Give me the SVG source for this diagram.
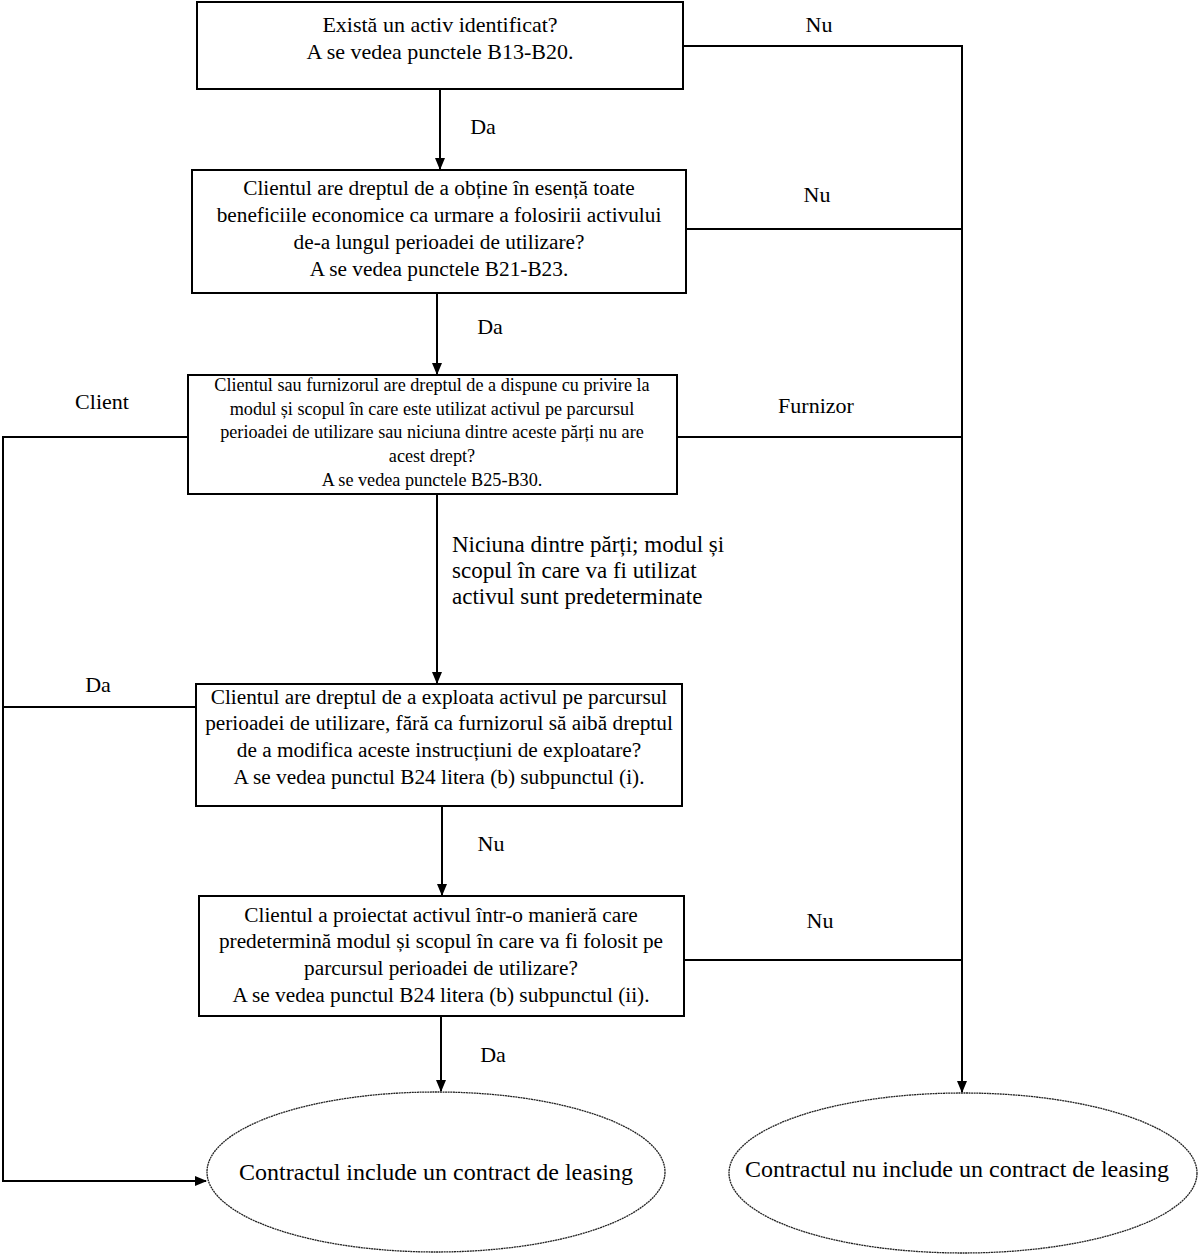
<svg xmlns="http://www.w3.org/2000/svg" width="1199" height="1259" viewBox="0 0 1199 1259">
<style>
.box{fill:#fff;stroke:#000;stroke-width:2}
.ell{fill:#fff;stroke:#222;stroke-width:1.3;stroke-dasharray:2 0.6}
.ln{fill:none;stroke:#000;stroke-width:2}
text{font-family:"Liberation Serif","Times New Roman",serif;fill:#000}
.t{font-size:21.3px;text-anchor:middle}
.t1{font-size:22px;text-anchor:middle}
.s{font-size:18.2px;text-anchor:middle}
.e{font-size:24px;text-anchor:middle}
.l{font-size:22px}
.n{font-size:23px}
</style>
<defs>
<marker id="arr" markerWidth="12" markerHeight="12" refX="11" refY="6" orient="auto" markerUnits="userSpaceOnUse">
<path d="M0,1 L12,6 L0,11 Z" fill="#000"/>
</marker>
</defs>
<rect width="1199" height="1259" fill="#fff"/>
<g id="connectors">
<line class="ln" x1="440" y1="89" x2="440" y2="169" marker-end="url(#arr)"/>
<line class="ln" x1="437" y1="293" x2="437" y2="374" marker-end="url(#arr)"/>
<line class="ln" x1="437" y1="494" x2="437" y2="683" marker-end="url(#arr)"/>
<line class="ln" x1="442" y1="806" x2="442" y2="895" marker-end="url(#arr)"/>
<line class="ln" x1="441" y1="1016" x2="441" y2="1091" marker-end="url(#arr)"/>
<polyline class="ln" points="683,46 962,46 962,1092" marker-end="url(#arr)"/>
<line class="ln" x1="686" y1="229" x2="962" y2="229"/>
<line class="ln" x1="677" y1="437" x2="962" y2="437"/>
<line class="ln" x1="684" y1="960" x2="962" y2="960"/>
<polyline class="ln" points="188,437 3,437 3,1181 206,1181" marker-end="url(#arr)"/>
<line class="ln" x1="196" y1="707" x2="3" y2="707"/>
</g>
<g id="labels">
<text class="l" x="819" y="32" text-anchor="middle">Nu</text>
<text class="l" x="483" y="134" text-anchor="middle">Da</text>
<text class="l" x="817" y="202" text-anchor="middle">Nu</text>
<text class="l" x="490" y="334" text-anchor="middle">Da</text>
<text class="l" x="102" y="409" text-anchor="middle">Client</text>
<text class="l" x="816" y="413" text-anchor="middle">Furnizor</text>
<text class="n" x="452" y="552">Niciuna dintre părți; modul și</text>
<text class="n" x="452" y="578">scopul în care va fi utilizat</text>
<text class="n" x="452" y="604">activul sunt predeterminate</text>
<text class="l" x="98" y="692" text-anchor="middle">Da</text>
<text class="l" x="491" y="851" text-anchor="middle">Nu</text>
<text class="l" x="820" y="928" text-anchor="middle">Nu</text>
<text class="l" x="493" y="1062" text-anchor="middle">Da</text>
</g>
<g id="n1">
<rect class="box" x="197" y="2" width="486" height="87"/>
<text class="t1" x="440" y="32">Există un activ identificat?</text>
<text class="t1" x="440" y="59">A se vedea punctele B13-B20.</text>
</g>
<g id="n2">
<rect class="box" x="192" y="170" width="494" height="123"/>
<text class="t" x="439" y="195">Clientul are dreptul de a obține în esență toate</text>
<text class="t" x="439" y="222">beneficiile economice ca urmare a folosirii activului</text>
<text class="t" x="439" y="249">de-a lungul perioadei de utilizare?</text>
<text class="t" x="439" y="276">A se vedea punctele B21-B23.</text>
</g>
<g id="n3">
<rect class="box" x="188" y="375" width="489" height="119"/>
<text class="s" x="432" y="391">Clientul sau furnizorul are dreptul de a dispune cu privire la</text>
<text class="s" x="432" y="415">modul și scopul în care este utilizat activul pe parcursul</text>
<text class="s" x="432" y="438">perioadei de utilizare sau niciuna dintre aceste părți nu are</text>
<text class="s" x="432" y="462">acest drept?</text>
<text class="s" x="432" y="486">A se vedea punctele B25-B30.</text>
</g>
<g id="n4">
<rect class="box" x="196" y="684" width="486" height="122"/>
<text class="t" x="439" y="704">Clientul are dreptul de a exploata activul pe parcursul</text>
<text class="t" x="439" y="730">perioadei de utilizare, fără ca furnizorul să aibă dreptul</text>
<text class="t" x="439" y="757">de a modifica aceste instrucțiuni de exploatare?</text>
<text class="t" x="439" y="784">A se vedea punctul B24 litera (b) subpunctul (i).</text>
</g>
<g id="n5">
<rect class="box" x="199" y="896" width="485" height="120"/>
<text class="t" x="441" y="922">Clientul a proiectat activul într-o manieră care</text>
<text class="t" x="441" y="948">predetermină modul și scopul în care va fi folosit pe</text>
<text class="t" x="441" y="975">parcursul perioadei de utilizare?</text>
<text class="t" x="441" y="1002">A se vedea punctul B24 litera (b) subpunctul (ii).</text>
</g>
<g id="n6">
<ellipse class="ell" cx="436" cy="1172" rx="229" ry="80"/>
<text class="e" x="436" y="1180">Contractul include un contract de leasing</text>
</g>
<g id="n7">
<ellipse class="ell" cx="963" cy="1173" rx="234" ry="80"/>
<text class="e" x="957" y="1177">Contractul nu include un contract de leasing</text>
</g>
</svg>
